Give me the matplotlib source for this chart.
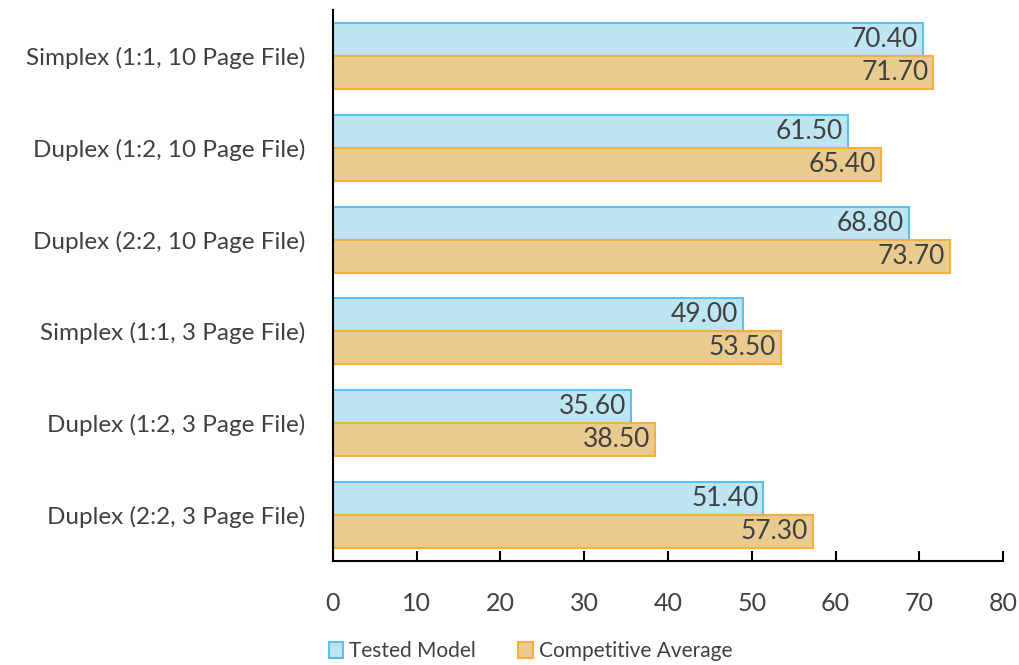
import matplotlib.pyplot as plt
import numpy as np

plt.rcParams["font.family"] = ["Lato", "DejaVu Sans"]

categories = [
    "Simplex (1:1, 10 Page File)",
    "Duplex (1:2, 10 Page File)",
    "Duplex (2:2, 10 Page File)",
    "Simplex (1:1, 3 Page File)",
    "Duplex (1:2, 3 Page File)",
    "Duplex (2:2, 3 Page File)",
]
tested_model = [70.40, 61.50, 68.80, 49.00, 35.60, 51.40]
competitive_avg = [71.70, 65.40, 73.70, 53.50, 38.50, 57.30]
x_ticks = [0, 10, 20, 30, 40, 50, 60, 70, 80]

text_color = "#404040"

fig = plt.figure(figsize=(10.2, 6.65), dpi=100)
ax = fig.add_axes([333 / 1020, 1 - 561 / 665, 670 / 1020, 551 / 665])

y = np.arange(len(categories))
h = 0.36
bars1 = ax.barh(y - h / 2, tested_model, height=h, color="#BDE5F2",
                edgecolor="#5BC0EB", linewidth=1.5, label="Tested Model")
bars2 = ax.barh(y + h / 2, competitive_avg, height=h, color="#EACB8F",
                edgecolor="#F5AF3F", linewidth=1.5, label="Competitive Average")

# value labels inside the bar ends
for bars in (bars1, bars2):
    for b in bars:
        w = b.get_width()
        ax.text(w - 0.6, b.get_y() + b.get_height() / 2, f"{w:.2f}",
                ha="right", va="center", fontsize=19, color=text_color)

ax.set_ylim(len(categories) - 0.5, -0.5)
ax.set_xlim(0, 80)
ax.set_yticks(y)
ax.set_yticklabels(categories, fontsize=17.5, color=text_color)
ax.set_xticks(x_ticks)
ax.set_xticklabels([str(t) for t in x_ticks], fontsize=18, color=text_color)
ax.tick_params(axis="y", length=0, pad=20)
ax.tick_params(axis="x", direction="in", length=7, width=1.5, pad=22)

for s in ("top", "right"):
    ax.spines[s].set_visible(False)
ax.spines["left"].set_linewidth(1.5)
ax.spines["bottom"].set_linewidth(1.5)

fig.legend(handles=[bars1, bars2], loc="lower center", ncol=2,
           bbox_to_anchor=(0.52, -0.022), frameon=False, fontsize=15,
           handlelength=0.7, handleheight=0.8, handletextpad=0.3,
           columnspacing=2.0, labelcolor=text_color)

fig.savefig("out.png", dpi=100)
